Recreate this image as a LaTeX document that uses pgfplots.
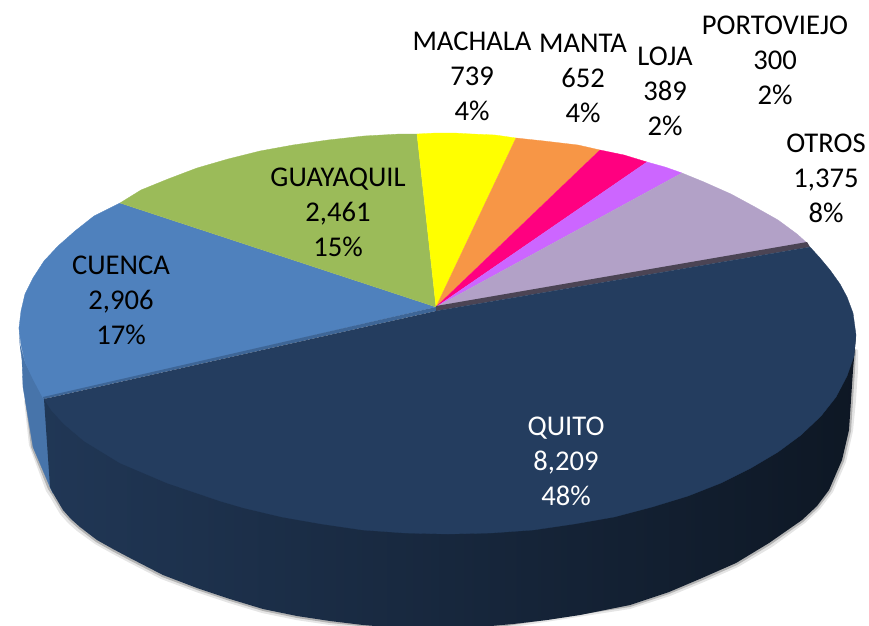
\documentclass[border=0pt]{standalone}
\usepackage{fontspec}
\setmainfont{Carlito}
\usepackage{pgfplots}
\pgfplotsset{compat=1.18}
\definecolor{cquito}{HTML}{243D5F}
\definecolor{ccuenca}{HTML}{4F81BD}
\definecolor{cguaya}{HTML}{9BBB59}
\definecolor{cmachala}{HTML}{FFFF00}
\definecolor{cmanta}{HTML}{F79646}
\definecolor{cloja}{HTML}{FF0080}
\definecolor{cporto}{HTML}{CC66FF}
\definecolor{cotros}{HTML}{B2A1C7}
\tikzset{
  wedge/.style={draw=#1, fill=#1, line width=0.3pt},
  lab/.style={align=center, font=\fontsize{28.6}{35}\selectfont, inner sep=0pt},
}
\begin{document}
\begin{tikzpicture}
\begin{axis}[
  scale only axis, width=869pt, height=625pt,
  xmin=0, xmax=869, ymin=0, ymax=625,
  y dir=reverse, hide axis, clip=true,
]
\addplot[draw=none] coordinates {(0,0) (869,625)};

% soft shadow under the side wall
\addplot[draw=none, fill=black, fill opacity=0.10] coordinates {
 (24,400) (29,445) (46,491) (50,497) (60,514) (68,523) (77,531) (95,544) (111,553) (128,562) (161,579) (196,592)
 (229,603) (262,613) (296,620) (330,625) (400,632) (480,632) (630,609) (670,596) (704,582) (738,567) (772,547)
 (805,523) (820,509) (833,492) (846,462) (853,431) (856,400) (858,370) (858,350) (840,340)};
\addplot[draw=none, fill=black, fill opacity=0.22] coordinates {
 (25,400) (31,447) (48,489) (52,495) (62,512) (70,521) (79,529) (96,542) (112,551) (129,560) (162,577) (197,590)
 (230,601) (263,611) (297,618) (330,623) (400,630) (480,630) (630,607) (669,594) (703,580) (737,565) (770,545)
 (803,522) (818,508) (831,491) (844,461) (851,431) (853,400) (855,370) (856,350) (840,340)};

% Cuenca side wall
\addplot[wedge=ccuenca!90!black] coordinates {
 (19,327) (20,345) (22,360) (23,387) (33,447) (50,487) (53,493) (60,420) (44,399) (33,378) (25,362) (20,345)};

% Quito side wall
\addplot[draw=none, left color=cquito!90!black, middle color=cquito!60!black, right color=cquito!38!black] coordinates {
 (44,399) (50,487) (53,493) (63,510) (71,519) (80,527) (97,540) (113,549) (130,558) (163,575) (197,588) (230,599)
 (263,609) (297,616) (330,621) (363,625) (400,628) (440,629) (480,627) (513,624) (547,620) (580,615) (630,605)
 (669,592) (702,578) (736,563) (769,543) (802,520) (817,506) (829,490) (842,460) (849,430) (851,400) (853,370)
 (856,335)};

% top faces
\addplot[wedge=ccuenca] coordinates {
 (436,307) (43,398) (33,379) (25,362) (21,345) (19,328) (21,311) (25,294) (33,278) (44,261) (58,246) (75,231)
 (94,216) (120,203)};
\addplot[wedge=cguaya] coordinates {
 (436,307) (120,203) (141,190) (168,179) (197,168) (228,159) (260,151) (293,145) (328,140) (364,136) (400,134) (417,134)};
\addplot[wedge=cmachala] coordinates {
 (436,307) (417,134) (436,133) (454,133) (472,134) (495,135) (516,138)};
\addplot[wedge=cmanta] coordinates {
 (436,307) (516,138) (544,141) (578,145) (600,150)};
\addplot[wedge=cloja] coordinates {
 (436,307) (600,150) (624,155) (647,162)};
\addplot[wedge=cporto] coordinates {
 (436,307) (647,162) (665,167) (682,173)};
\addplot[wedge=cotros] coordinates {
 (436,307) (682,173) (704,182) (731,194) (755,207) (778,220) (797,234) (807,243)};

% visible cut faces next to the Quito slice
\addplot[draw=none, fill=ccuenca!60!cquito] coordinates {(436,307) (43,397) (44,399) (436,311)};
\addplot[draw=none, fill=cotros!42!black] coordinates {(436,306) (807,242) (810,247) (436,311)};

% Quito top face
\addplot[wedge=cquito] coordinates {
 (436,311) (810,247) (820,258) (830,270) (840,284) (847,297) (853,313) (856,335) (854,356) (847,376) (836,397)
 (821,416) (801,435) (778,452) (751,468) (721,483) (688,496) (652,507) (614,517) (574,524) (533,530) (491,533)
 (448,534) (405,533) (363,530) (322,524) (282,517) (244,508) (220,501) (167,483) (120,463) (84,441) (64,424)
 (52,411) (44,399)};

\node[lab, text=white] at (axis cs:566,461) {QUITO\\8,209\\48\%};
\node[lab] at (axis cs:121,300) {CUENCA\\2,906\\17\%};
\node[lab] at (axis cs:338,212) {GUAYAQUIL\\2,461\\15\%};
\node[lab] at (axis cs:472,76) {MACHALA\\739\\4\%};
\node[lab] at (axis cs:583,78) {MANTA\\652\\4\%};
\node[lab] at (axis cs:665,91) {LOJA\\389\\2\%};
\node[lab] at (axis cs:775,60) {PORTOVIEJO\\300\\2\%};
\node[lab] at (axis cs:826,178) {OTROS\\1,375\\8\%};
\end{axis}
\end{tikzpicture}
\end{document}
